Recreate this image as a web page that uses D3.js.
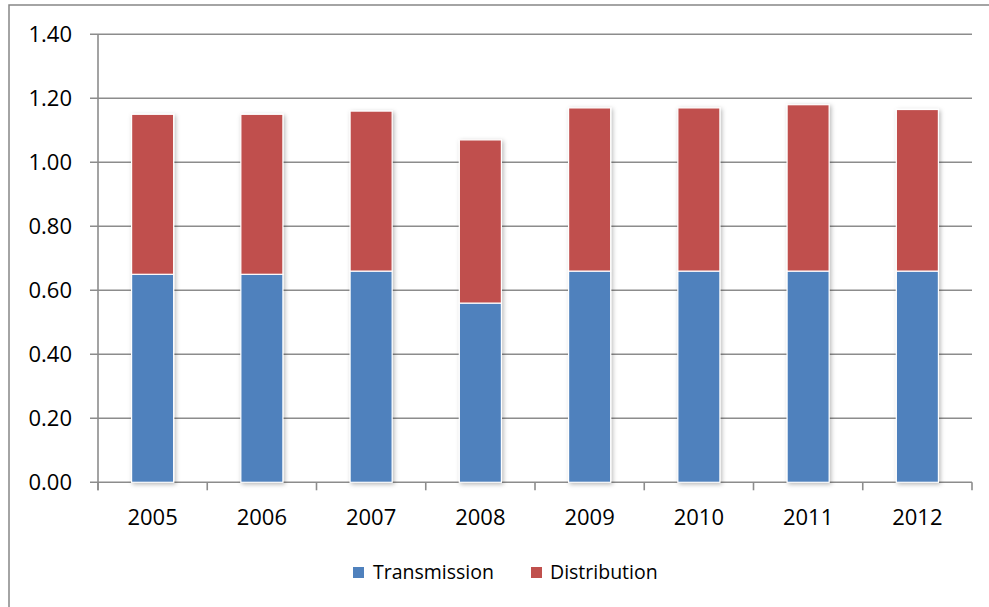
<!DOCTYPE html>
<html>
<head>
<meta charset="utf-8">
<script src="https://cdn.jsdelivr.net/npm/d3@7"></script>
<style>
  html, body { margin: 0; padding: 0; background: #fff; }
  svg { display: block; }
  text { font-family: "Open Sans", "Noto Sans", sans-serif; fill: #000; }
</style>
</head>
<body>
<svg id="chart" width="989" height="607"></svg>
<script>
// ---- data ----
const years = ["2005", "2006", "2007", "2008", "2009", "2010", "2011", "2012"];
const transmission = [0.65, 0.65, 0.66, 0.56, 0.66, 0.66, 0.66, 0.66];
const distribution = [0.50, 0.50, 0.50, 0.51, 0.51, 0.51, 0.52, 0.505];
const seriesNames = ["Transmission", "Distribution"];
const seriesColors = ["#4F81BD", "#C0504D"];
const yTicks = [0, 0.2, 0.4, 0.6, 0.8, 1.0, 1.2, 1.4];

// ---- layout ----
const svg = d3.select("#chart");
const plot = { left: 98, right: 972, top: 34.3, bottom: 482.3 };

const defs = svg.append("defs");
const f = defs.append("filter").attr("id", "shadow")
  .attr("x", "-30%").attr("y", "-10%").attr("width", "160%").attr("height", "120%");
f.append("feDropShadow").attr("dx", 1.5).attr("dy", 1.5)
  .attr("stdDeviation", 2).attr("flood-color", "#000").attr("flood-opacity", 0.28);

// outer chart border (extends beyond right/bottom of view)
svg.append("rect")
  .attr("x", 9).attr("y", 5).attr("width", 1000).attr("height", 700)
  .attr("fill", "none").attr("stroke", "#868686").attr("stroke-width", 1.5);

const x = d3.scaleBand().domain(years).range([plot.left, plot.right])
  .paddingInner(0.615).paddingOuter(0.3075);
const y = d3.scaleLinear().domain([0, 1.4]).range([plot.bottom, plot.top]);

// gridlines (with outward tick extension)
svg.append("g").selectAll("line").data(yTicks).join("line")
  .attr("x1", plot.left - 8).attr("x2", plot.right)
  .attr("y1", d => y(d)).attr("y2", d => y(d))
  .attr("stroke", "#8c8c8c").attr("stroke-width", 1.6);

// y axis line
svg.append("line")
  .attr("x1", plot.left).attr("x2", plot.left)
  .attr("y1", y(1.4)).attr("y2", plot.bottom + 8)
  .attr("stroke", "#8c8c8c").attr("stroke-width", 1.6);

// x axis category boundary ticks
const step = x.step();
const bounds = d3.range(years.length + 1).map(i => x.range()[0] + i * step);
svg.append("g").selectAll("line").data(bounds).join("line")
  .attr("x1", d => d).attr("x2", d => d)
  .attr("y1", plot.bottom).attr("y2", plot.bottom + 8)
  .attr("stroke", "#8c8c8c").attr("stroke-width", 1.6);

// y tick labels
svg.append("g").selectAll("text").data(yTicks).join("text")
  .attr("x", 72).attr("y", d => y(d)).attr("dy", "0.36em")
  .attr("text-anchor", "end").attr("font-size", 22)
  .text(d => d3.format(".2f")(d));

// x tick labels
svg.append("g").selectAll("text").data(years).join("text")
  .attr("x", d => x(d) + x.bandwidth() / 2).attr("y", 525)
  .attr("text-anchor", "middle").attr("font-size", 22)
  .text(d => d);

// stacked bars
const rows = years.map((yr, i) => ({ year: yr, Transmission: transmission[i], Distribution: distribution[i] }));
const stack = d3.stack().keys(seriesNames)(rows);
const color = d3.scaleOrdinal().domain(seriesNames).range(seriesColors);

svg.append("g").attr("filter", "url(#shadow)")
  .selectAll("g").data(stack).join("g")
  .attr("fill", d => color(d.key))
  .selectAll("rect").data(d => d).join("rect")
  .attr("x", d => x(d.data.year))
  .attr("width", x.bandwidth())
  .attr("y", d => y(d[1]))
  .attr("height", d => y(d[0]) - y(d[1]))
  .attr("stroke", "#fff").attr("stroke-width", 1.2);

// legend
const legendItems = [
  { name: seriesNames[0], color: seriesColors[0], sx: 353, tx: 373 },
  { name: seriesNames[1], color: seriesColors[1], sx: 531, tx: 550 }
];
const lg = svg.append("g");
lg.selectAll("rect").data(legendItems).join("rect")
  .attr("x", d => d.sx).attr("y", 567).attr("width", 11).attr("height", 11)
  .attr("fill", d => d.color);
lg.selectAll("text").data(legendItems).join("text")
  .attr("x", d => d.tx).attr("y", 579).attr("font-size", 19.5)
  .text(d => d.name);
</script>
</body>
</html>
